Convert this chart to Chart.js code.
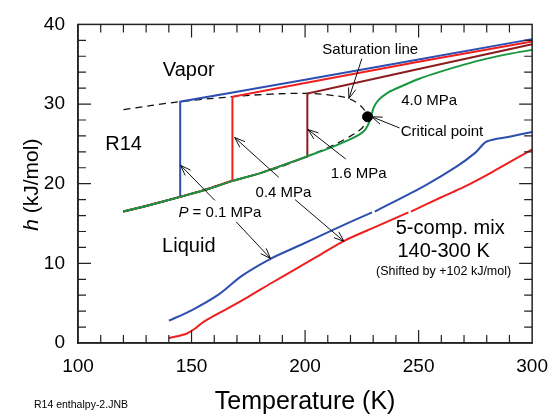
<!DOCTYPE html>
<html lang="en">
<head>
<meta charset="UTF-8">
<title>R14 enthalpy</title>
<script src="https://cdn.jsdelivr.net/npm/chart.js"></script>
<style>
    body { margin: 0; background: #fff; }
    #wrap { width: 560px; height: 416px; }
</style>
</head>
<body>
<div id="wrap"><canvas id="chart" width="560" height="416"></canvas></div>
<script>
// tick labels
const xTickVals = [100, 150, 200, 250, 300];
const yTickVals = [0, 10, 20, 30, 40];

// saturation dome (dashed), vapor side then liquid side
const satT = [120, 145, 168, 185, 201, 211, 219, 224, 226.5, 227.5, 226.5, 224.4, 218.6, 211.4, 201, 187, 168, 145, 120];
const satH = [29.3, 30.3, 30.92, 31.25, 31.33, 31.12, 30.7, 29.9, 29.1, 28.4, 27.6, 26.8, 25.75, 24.7, 23.45, 21.9, 20.35, 18.35, 16.5];

// R14 isobars
const p01T = [120, 130, 145, 145, 175, 200, 250, 300];
const p01H = [16.5, 17.2, 18.35, 30.3, 31.8, 33.05, 35.6, 38.15];
const p04T = [120, 130, 145, 157, 168, 168, 200, 250, 300];
const p04H = [16.5, 17.2, 18.35, 19.3, 20.4, 30.92, 32.65, 35.3, 37.86];
const p16T = [120, 130, 145, 157, 168, 180, 190, 201, 201, 250, 300];
const p16H = [16.5, 17.2, 18.35, 19.3, 20.35, 21.3, 22.3, 23.4, 31.33, 34.4, 37.52];
const p40T = [120, 130, 145, 157, 168, 180, 190, 201, 211, 220, 224, 226.5, 228.7, 230.1, 232.3, 236, 240.2, 250, 260, 270, 280, 290, 300];
const p40H = [16.5, 17.2, 18.35, 19.3, 20.35, 21.3, 22.3, 23.45, 24.5, 25.6, 26.2, 26.8, 28.0, 29.5, 30.5, 31.35, 31.95, 33.15, 34.1, 34.95, 35.7, 36.3, 36.8];

// critical point
const critT = [227.5];
const critH = [28.4];

// 5-component mixture (shifted), 0.1 and 0.4 MPa
const mix01T = [140, 150, 162, 172, 185, 198, 213, 229.5, 230, 230.7, 253, 267, 275, 280, 290, 300];
const mix01H = [2.8, 4.1, 6.1, 8.4, 10.6, 12.3, 14.3, 16.4, null, 16.5, 19.8, 22.2, 23.9, 25.3, 25.9, 26.5];
const mix04T = [140, 148, 152, 155, 165, 175, 185, 195.6, 205, 217, 230, 245.5, 246, 246.6, 260, 270, 282, 300];
const mix04H = [0.6, 1.2, 1.9, 2.6, 4.2, 5.8, 7.5, 9.25, 10.8, 12.8, 14.45, 16.4, null, 16.5, 18.3, 19.6, 21.4, 24.3];

const FONT = '"Liberation Sans", Arial, Helvetica, sans-serif';
const BLUE = '#2d4fb0', RED = '#f01f1f', DRED = '#8c1c1c', GREEN = '#1a9640';

function pts(xs, ys) {
    return xs.map((v, i) => ({ x: v, y: ys[i] }));
}

// annotations (data coordinates)
const labels = [
    { t: 'Vapor', T: 148.8, h: 34.2, s: 20 },
    { t: 'R14', T: 120.1, h: 24.9, s: 20 },
    { t: 'Saturation line', T: 228.7, h: 36.8, s: 15 },
    { t: '4.0 MPa', T: 254.6, h: 30.4, s: 15 },
    { t: 'Critical point', T: 260.3, h: 26.5, s: 15 },
    { t: '1.6 MPa', T: 223.6, h: 21.2, s: 15 },
    { t: '0.4 MPa', T: 190.5, h: 18.9, s: 15 },
    { t: 'Liquid', T: 148.8, h: 12.1, s: 20 },
    { t: '5-comp. mix', T: 263.9, h: 14.4, s: 20 },
    { t: '140-300 K', T: 261.0, h: 11.5, s: 20 },
    { t: '(Shifted by +102 kJ/mol)', T: 261.0, h: 9.0, s: 12.5 }
];
const arrows = [
    [225.0, 35.7, 219.3, 30.7],
    [241.6, 27.0, 229.4, 28.4],
    [217.9, 23.1, 201.3, 26.8],
    [188.4, 20.8, 169.0, 25.8],
    [195.6, 18.0, 217.2, 12.75],
    [160.3, 17.9, 145.2, 22.3],
    [169.7, 15.2, 184.8, 10.6]
];

const overlay = {
    id: 'overlay',
    afterDraw(chart) {
        const ctx = chart.ctx, a = chart.chartArea;
        const X = v => chart.scales.x.getPixelForValue(v);
        const Y = v => chart.scales.y.getPixelForValue(v);
        ctx.save();
        ctx.setLineDash([]);

        // box and inward ticks
        ctx.strokeStyle = '#222';
        ctx.lineWidth = 1.5;
        ctx.strokeRect(a.left, a.top, a.right - a.left, a.bottom - a.top);
        ctx.lineWidth = 1.2;
        ctx.beginPath();
        for (let t = 110; t < 300; t += 10) {
            const len = t % 50 === 0 ? 13 : 8, px = X(t);
            ctx.moveTo(px, a.bottom); ctx.lineTo(px, a.bottom - len);
            ctx.moveTo(px, a.top); ctx.lineTo(px, a.top + len);
        }
        for (let h = 2; h < 40; h += 2) {
            const len = h % 10 === 0 ? 13 : 8, py = Y(h);
            ctx.moveTo(a.left, py); ctx.lineTo(a.left + len, py);
            ctx.moveTo(a.right, py); ctx.lineTo(a.right - len, py);
        }
        ctx.stroke();

        // arrows
        ctx.strokeStyle = '#111';
        ctx.lineWidth = 1;
        arrows.forEach(([t1, h1, t2, h2]) => {
            const x1 = X(t1), y1 = Y(h1), x2 = X(t2), y2 = Y(h2);
            const ang = Math.atan2(y2 - y1, x2 - x1);
            ctx.beginPath();
            ctx.moveTo(x1, y1); ctx.lineTo(x2, y2);
            ctx.moveTo(x2 - 11 * Math.cos(ang - 0.35), y2 - 11 * Math.sin(ang - 0.35));
            ctx.lineTo(x2, y2);
            ctx.lineTo(x2 - 11 * Math.cos(ang + 0.35), y2 - 11 * Math.sin(ang + 0.35));
            ctx.stroke();
        });

        // text labels
        ctx.fillStyle = '#000';
        ctx.textBaseline = 'middle';
        ctx.textAlign = 'center';
        labels.forEach(l => {
            ctx.font = l.s + 'px ' + FONT;
            ctx.fillText(l.t, X(l.T), Y(l.h));
        });

        // P = 0.1 MPa with italic P
        ctx.textAlign = 'left';
        ctx.font = 'italic 15px ' + FONT;
        const wP = ctx.measureText('P').width;
        ctx.font = '15px ' + FONT;
        const wR = ctx.measureText(' = 0.1 MPa').width;
        const sx = X(162.5) - (wP + wR) / 2;
        ctx.font = 'italic 15px ' + FONT;
        ctx.fillText('P', sx, Y(16.3));
        ctx.font = '15px ' + FONT;
        ctx.fillText(' = 0.1 MPa', sx + wP, Y(16.3));

        // axis titles
        ctx.font = '25px ' + FONT;
        ctx.textAlign = 'center';
        ctx.fillText('Temperature (K)', (a.left + a.right) / 2, 402);

        ctx.save();
        ctx.translate(32, (a.top + a.bottom) / 2 + 1);
        ctx.rotate(-Math.PI / 2);
        ctx.font = 'italic 21px ' + FONT;
        const wh = ctx.measureText('h').width;
        ctx.font = '21px ' + FONT;
        const wt = ctx.measureText(' (kJ/mol)').width;
        ctx.textAlign = 'left';
        ctx.font = 'italic 21px ' + FONT;
        ctx.fillText('h', -(wh + wt) / 2, 0);
        ctx.font = '21px ' + FONT;
        ctx.fillText(' (kJ/mol)', -(wh + wt) / 2 + wh, 0);
        ctx.restore();

        ctx.font = '10.5px ' + FONT;
        ctx.textAlign = 'left';
        ctx.fillText('R14 enthalpy-2.JNB', 34, 405);
        ctx.restore();
    }
};

const line = (data, color, extra) => Object.assign({
    data: data, borderColor: color, borderWidth: 2, pointRadius: 0,
    fill: false, tension: 0
}, extra || {});

new Chart(document.getElementById('chart'), {
    type: 'line',
    data: {
        datasets: [
            { type: 'scatter', data: pts(critT, critH), pointRadius: 5, pointBackgroundColor: '#000', pointBorderColor: '#000' },
            line(pts(p40T, p40H), GREEN, { tension: 0.3 }),
            line(pts(p16T, p16H), DRED),
            line(pts(p04T, p04H), RED),
            line(pts(p01T, p01H), BLUE),
            line(pts(satT, satH), '#111', { borderWidth: 1.3, borderDash: [7, 5], tension: 0.4 }),
            line(pts(mix01T, mix01H), BLUE, { tension: 0.3 }),
            line(pts(mix04T, mix04H), RED, { tension: 0.3 })
        ]
    },
    options: {
        responsive: false,
        animation: false,
        layout: { padding: { top: 20, right: 18, left: 0, bottom: 0 } },
        plugins: { legend: { display: false }, tooltip: { enabled: false } },
        scales: {
            x: {
                type: 'linear', min: 100, max: 300,
                grid: { display: false, drawTicks: false },
                border: { display: true, color: '#222', width: 1.5 },
                afterBuildTicks: s => { s.ticks = xTickVals.map(v => ({ value: v })); },
                afterFit: s => { s.height = 73; },
                ticks: { font: { size: 19, family: FONT }, color: '#000', padding: 12, maxRotation: 0, autoSkip: false }
            },
            y: {
                type: 'linear', min: 0, max: 40,
                grid: { display: false, drawTicks: false },
                border: { display: true, color: '#222', width: 1.5 },
                afterBuildTicks: s => { s.ticks = yTickVals.map(v => ({ value: v })); },
                afterFit: s => { s.width = 78; },
                ticks: { font: { size: 19, family: FONT }, color: '#000', padding: 13 }
            }
        }
    },
    plugins: [overlay]
});
</script>
</body>
</html>
